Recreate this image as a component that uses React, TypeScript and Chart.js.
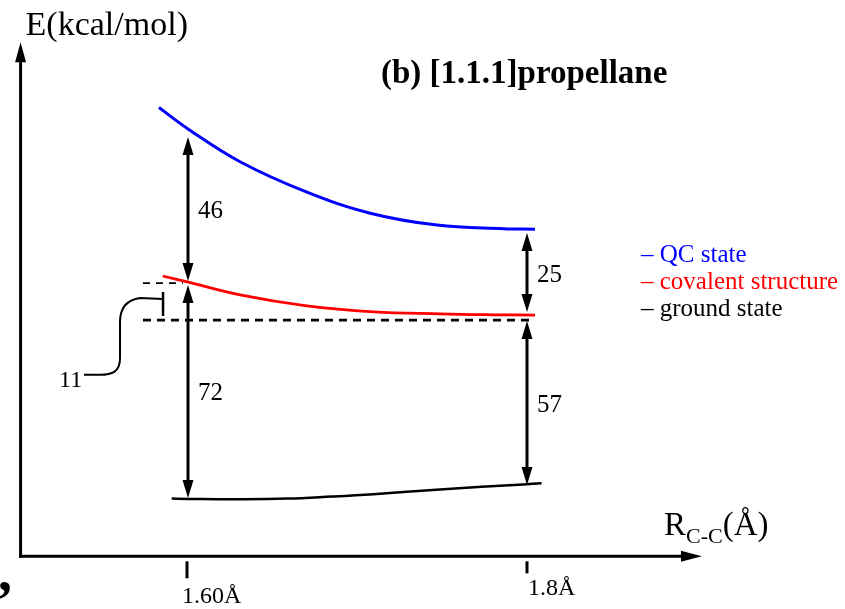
import { useEffect, useRef } from "react";
import { Chart, registerables } from "chart.js";

Chart.register(...registerables);

// Bond length R(C-C) in Å, energies in kcal/mol (ground state at 1.60 Å = 0)
const qcStateR = [1.5835, 1.6008, 1.6312, 1.6698, 1.7078, 1.747, 1.7863, 1.8047];
const qcStateE = [131.9, 124.6, 113.6, 103.5, 96.2, 92.2, 91.0, 90.8];

const covalentR = [1.5857, 1.6008, 1.6312, 1.6704, 1.7096, 1.7488, 1.7800, 1.8047];
const covalentE = [75.0, 72.9, 68.6, 64.9, 62.9, 62.2, 61.9, 61.8];

const groundR = [1.591, 1.6008, 1.6300, 1.6586, 1.6850, 1.7096, 1.7488, 1.7978, 1.8086];
const groundE = [-0.2, -0.3, -0.4, -0.2, 0.5, 1.3, 2.9, 4.6, 5.0];

// dashed reference levels
const lowerDashR = [1.5741, 1.8047];
const lowerDashE = [60.1, 60.1];
const upperDashR = [1.5741, 1.5976];
const upperDashE = [72.6, 72.6];

// axis ticks
const tickValues = [1.6, 1.8];
const tickLabels = ["1.60Å", "1.8Å"];

// energy gaps (double-headed arrows)
const gapR = [1.6, 1.6, 1.8, 1.8];
const gapFrom = [122.0, 72.0, 89.5, 59.8];
const gapTo = [73.3, 0.0, 62.8, 4.4];
const gapLabels = ["46", "72", "25", "57"];

const legendLabels = ["– QC state", "– covalent structure", "– ground state"];
const legendColors = ["#0000ff", "#ff0000", "#000000"];

const SERIF = '"Liberation Serif", "Times New Roman", serif';

const zip = (xs: number[], ys: number[]) => xs.map((x, i) => ({ x, y: ys[i] }));

function arrowHead(ctx: CanvasRenderingContext2D, x: number, tipY: number, dir: number, len = 18, half = 5.5) {
  ctx.beginPath();
  ctx.moveTo(x, tipY);
  ctx.lineTo(x - half, tipY + dir * len);
  ctx.lineTo(x + half, tipY + dir * len);
  ctx.closePath();
  ctx.fill();
}

const diagramPlugin = {
  id: "diagram",
  afterDatasetsDraw(chart: any) {
    const ctx: CanvasRenderingContext2D = chart.ctx;
    const xs = chart.scales.x;
    const ys = chart.scales.y;
    const X = (v: number) => xs.getPixelForValue(v);
    const Y = (v: number) => ys.getPixelForValue(v);
    ctx.save();
    ctx.fillStyle = "#000";
    ctx.strokeStyle = "#000";

    // axes
    const axisR = 1.5021;
    const axisE = -19.7;
    const yTop = 154.0;
    const xEnd = 1.9029;
    ctx.lineWidth = 3;
    ctx.beginPath();
    ctx.moveTo(X(axisR), Y(axisE) + 1.5);
    ctx.lineTo(X(axisR), Y(yTop) + 12);
    ctx.stroke();
    ctx.beginPath();
    ctx.moveTo(X(axisR) - 1.5, Y(axisE));
    ctx.lineTo(X(xEnd) - 12, Y(axisE));
    ctx.stroke();
    // y arrow head
    ctx.beginPath();
    ctx.moveTo(X(axisR), Y(yTop));
    ctx.lineTo(X(axisR) - 5.5, Y(yTop) + 20);
    ctx.lineTo(X(axisR) + 5.5, Y(yTop) + 20);
    ctx.closePath();
    ctx.fill();
    // x arrow head
    ctx.beginPath();
    ctx.moveTo(X(xEnd), Y(axisE));
    ctx.lineTo(X(xEnd) - 21, Y(axisE) - 5.5);
    ctx.lineTo(X(xEnd) - 21, Y(axisE) + 5.5);
    ctx.closePath();
    ctx.fill();

    // ticks
    const tickLen = [17, 12];
    const labelBase = [47, 39];
    const labelDx = [-5, 1];
    tickValues.forEach((t, i) => {
      const px = X(t);
      ctx.lineWidth = 3;
      ctx.beginPath();
      ctx.moveTo(px, Y(axisE) + 5);
      ctx.lineTo(px, Y(axisE) + 5 + tickLen[i]);
      ctx.stroke();
      ctx.font = `24px ${SERIF}`;
      ctx.textAlign = "left";
      ctx.textBaseline = "alphabetic";
      ctx.fillText(tickLabels[i], px + labelDx[i], Y(axisE) + labelBase[i]);
    });

    // gap arrows
    ctx.lineWidth = 3;
    gapR.forEach((r, i) => {
      const px = X(r) + (i < 2 ? 1 : 0);
      const a = Y(gapFrom[i]);
      const b = Y(gapTo[i]);
      ctx.beginPath();
      ctx.moveTo(px, a + 10);
      ctx.lineTo(px, b - 10);
      ctx.stroke();
      arrowHead(ctx, px, a, 1);
      arrowHead(ctx, px, b, -1);
      ctx.font = `25px ${SERIF}`;
      ctx.textAlign = "left";
      const mid = (a + b) / 2;
      ctx.fillText(gapLabels[i], px + 10, mid + 9);
    });

    // bracket for 11
    ctx.lineWidth = 2.5;
    ctx.beginPath();
    ctx.moveTo(X(1.5859), Y(69.6));
    ctx.lineTo(X(1.5859), Y(61.5));
    ctx.stroke();
    ctx.lineWidth = 2;
    ctx.beginPath();
    ctx.moveTo(X(1.5859), Y(67.2));
    ctx.lineTo(X(1.5724), Y(67.6));
    ctx.bezierCurveTo(X(1.5635), Y(66.9), X(1.5606), Y(63.5), X(1.5606), Y(59.5));
    ctx.lineTo(X(1.5606), Y(47.3));
    ctx.bezierCurveTo(X(1.5606), Y(42.6), X(1.5559), Y(41.6), X(1.5488), Y(41.6));
    ctx.lineTo(X(1.5394), Y(41.6));
    ctx.stroke();
    ctx.font = `24px ${SERIF}`;
    ctx.textAlign = "left";
    ctx.fillText("11", X(1.5265) - 3, Y(37.5));

    // axis titles
    ctx.font = `34px ${SERIF}`;
    ctx.fillText("E(kcal/mol)", X(axisR) + 5, Y(yTop) - 7);

    let rx = 664;
    const rBase = Y(axisE) - 21;
    ctx.font = `33px ${SERIF}`;
    ctx.fillText("R", rx, rBase);
    rx += ctx.measureText("R").width;
    ctx.font = `22px ${SERIF}`;
    ctx.fillText("C-C", rx, rBase + 8);
    rx += ctx.measureText("C-C").width;
    ctx.font = `33px ${SERIF}`;
    ctx.fillText("(Å)", rx, rBase);

    // title
    ctx.font = `bold 33px ${SERIF}`;
    ctx.fillText("(b) [1.1.1]propellane", 381, 83);

    // legend
    ctx.font = `25px ${SERIF}`;
    legendLabels.forEach((l, i) => {
      ctx.fillStyle = legendColors[i];
      ctx.fillText(l, 641, 262 + i * 27);
    });

    // stray comma
    ctx.fillStyle = "#000";
    ctx.font = `bold 56px ${SERIF}`;
    ctx.fillText(",", -2, 590);

    ctx.restore();
  },
};

export default function App() {
  const ref = useRef<HTMLCanvasElement | null>(null);
  useEffect(() => {
    if (!ref.current) return;
    const chart = new Chart(ref.current, {
      type: "line",
      data: {
        datasets: [
          { data: zip(qcStateR, qcStateE), borderColor: "#0000ff", borderWidth: 3, pointRadius: 0, tension: 0.4, fill: false },
          { data: zip(covalentR, covalentE), borderColor: "#ff0000", borderWidth: 2.8, pointRadius: 0, tension: 0.4, fill: false },
          { data: zip(groundR, groundE), borderColor: "#000000", borderWidth: 2.5, pointRadius: 0, tension: 0.4, fill: false },
          { data: zip(lowerDashR, lowerDashE), borderColor: "#000000", borderWidth: 2.6, borderDash: [8, 6], pointRadius: 0, fill: false },
          { data: zip(upperDashR, upperDashE), borderColor: "#000000", borderWidth: 1.6, borderDash: [7, 6], pointRadius: 0, fill: false },
        ],
      },
      options: {
        animation: false,
        responsive: false,
        devicePixelRatio: 1,
        layout: { padding: 0 },
        events: [],
        scales: {
          x: { type: "linear", min: 1.49, max: 1.6 + 658 / 1700, display: false },
          y: { type: "linear", min: -37.5, max: 498 / 2.96, display: false },
        },
        plugins: { legend: { display: false }, tooltip: { enabled: false } },
      },
      plugins: [diagramPlugin],
    } as any);
    return () => chart.destroy();
  }, []);
  return (
    <div style={{ position: "absolute", left: 0, top: 0, width: 845, height: 609, background: "#fff" }}>
      <canvas ref={ref} width={845} height={609} style={{ display: "block", width: 845, height: 609 }} />
    </div>
  );
}
